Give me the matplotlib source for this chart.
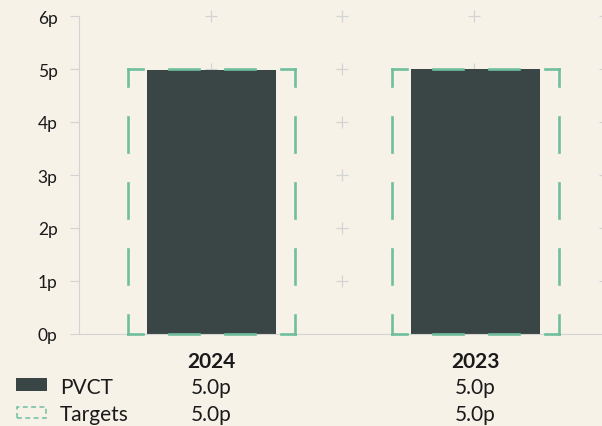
import matplotlib
matplotlib.use("Agg")
import matplotlib.pyplot as plt
import matplotlib.patches as mpatches
import matplotlib.transforms as mtransforms

# data
years = ["2024", "2023"]
pvct = [4.98, 5.0]
targets = [5.0, 5.0]
pvct_labels = ["5.0p", "5.0p"]
target_labels = ["5.0p", "5.0p"]
yticks = [0, 1, 2, 3, 4, 5, 6]

BG = "#f6f2e8"
BAR = "#3a4646"
GREEN = "#6fbf9e"
GRID = "#d3d3d3"
TXT = "#1a1a1a"

plt.rcParams["font.family"] = ["Lato", "DejaVu Sans"]
plt.rcParams["lines.scale_dashes"] = False

W, H = 602, 427
fig = plt.figure(figsize=(W / 100, H / 100), dpi=100, facecolor=BG)

def fx(px):
    return px / W

def fy(px):
    return 1 - px / H

ax = fig.add_axes([fx(79), fy(335), fx(602) - fx(79), fy(17) - fy(335)])
ax.set_facecolor(BG)

x = list(range(len(years)))
ax.set_xlim(-0.502, 1.479)
ax.set_ylim(0, 6)

# plus-shaped grid markers, every quarter of the plot width
cross_tr = mtransforms.blended_transform_factory(ax.transAxes, ax.transData)
for k in range(1, 5):
    gx = k * 131.5 / 523
    for gy in yticks[1:]:
        ax.plot(gx, gy, marker="+", ms=8, mew=0.9, color=GRID, transform=cross_tr,
                clip_on=False, zorder=1)

ax.bar(x, pvct, width=0.49, color=BAR, zorder=2)

# dashed target boxes, each side drawn from its corner so the corners are L shapes
tw = 0.63
px_to_pt = 0.72
for xi, t in zip(x, targets):
    x0, x1 = xi - tw / 2, xi + tw / 2
    hstyle = (15 * px_to_pt, (30 * px_to_pt, 26 * px_to_pt))
    vstyle = (18 * px_to_pt, (35 * px_to_pt, 31 * px_to_pt))
    kw = dict(color=GREEN, lw=1.9, dash_capstyle="projecting", zorder=3, clip_on=False)
    ax.plot([x0, x1], [t, t], ls=hstyle, **kw)
    ax.plot([x0, x1], [0, 0], ls=hstyle, **kw)
    ax.plot([x0, x0], [t, 0], ls=vstyle, **kw)
    ax.plot([x1, x1], [t, 0], ls=vstyle, **kw)

ax.set_xticks([])
ax.set_yticks(yticks)
ax.set_yticklabels([f"{v}p" for v in yticks], fontsize=12.5, color=TXT)
ax.tick_params(axis="y", length=6.5, width=0.8, color=GRID, pad=9)
for s in ["top", "right"]:
    ax.spines[s].set_visible(False)
ax.spines["left"].set_color(GRID)
ax.spines["left"].set_linewidth(0.8)
ax.spines["bottom"].set_color(GRID)
ax.spines["bottom"].set_linewidth(0.8)
ax.spines["bottom"].set_zorder(2.5)

# table below the chart
FS = 15
tr = mtransforms.blended_transform_factory(ax.transData, fig.transFigure)
for xi, yr, pl, tl in zip(x, years, pvct_labels, target_labels):
    ax.text(xi, fy(368), yr, transform=tr, ha="center", va="baseline",
            fontsize=FS, fontweight="bold", color=TXT)
    ax.text(xi, fy(394), pl, transform=tr, ha="center", va="baseline",
            fontsize=FS, color=TXT)
    ax.text(xi, fy(421), tl, transform=tr, ha="center", va="baseline",
            fontsize=FS, color=TXT)

fig.text(fx(60), fy(394), "PVCT", ha="left", va="baseline", fontsize=FS, color=TXT)
fig.text(fx(60), fy(421), "Targets", ha="left", va="baseline", fontsize=FS, color=TXT)

fig.add_artist(mpatches.Rectangle((fx(16), fy(392)), fx(31), fy(379) - fy(392),
                                  transform=fig.transFigure, facecolor=BAR, edgecolor="none"))
fig.add_artist(mpatches.Rectangle((fx(17), fy(419)), fx(29), fy(408) - fy(419),
                                  transform=fig.transFigure, facecolor="none",
                                  edgecolor=GREEN, lw=1.1, ls=(0, (3.5, 2.5))))

fig.savefig("out.png", dpi=100, facecolor=BG)
